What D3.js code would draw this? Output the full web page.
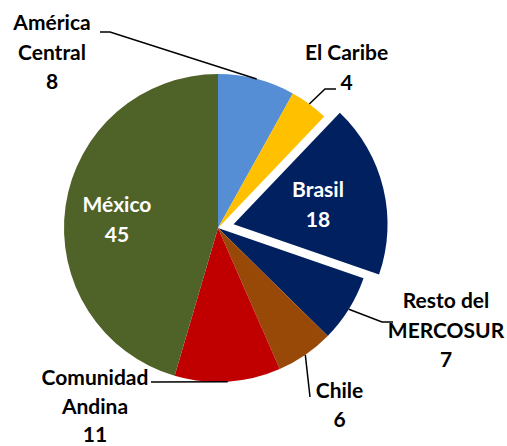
<!DOCTYPE html>
<html>
<head>
<meta charset="utf-8">
<script src="https://cdn.jsdelivr.net/npm/d3@7"></script>
<style>
  html, body { margin: 0; padding: 0; background: #fff; }
  svg { display: block; }
  text { font-family: Lato, "Open Sans", sans-serif; font-weight: bold; font-size: 21px; }
</style>
</head>
<body>
<svg id="chart" width="507" height="446"></svg>
<script>
// ---- data ----
const categories = ["América Central", "El Caribe", "Brasil", "Resto del MERCOSUR", "Chile", "Comunidad Andina", "México"];
const values = [8, 4, 18, 7, 6, 11, 45];
const labelLines = [["América", "Central"], ["El Caribe"], ["Brasil"], ["Resto del", "MERCOSUR"], ["Chile"], ["Comunidad", "Andina"], ["México"]];
const colors = ["#558ED5", "#FFC000", "#002060", "#002060", "#984807", "#C00000", "#4F6228"];
const exploded = [false, false, true, false, false, false, false];

// ---- layout (not data) ----
const W = 507, H = 446;
const cx = 218, cy = 228, R = 154, explodeDist = 16;
const lineH = 29.5;
const labelLayout = [
  { x: 52,  y: 30,  inside: false, leader: [[110, 32], [100, 32]] },
  { x: 346.5, y: 60, inside: false, leader: [[325, 89], [336, 89]] },
  { x: 318, y: 197, inside: true },
  { x: 446, y: 308, inside: false, leader: [[382, 322], [393, 322]] },
  { x: 339.5, y: 398, inside: false, leader: [[310, 397]] },
  { x: 95,  y: 385, inside: false, leader: [[151, 382]] },
  { x: 117, y: 212, inside: true }
];

const svg = d3.select("#chart");
const g = svg.append("g").attr("transform", `translate(${cx},${cy})`);

const pie = d3.pie().sort(null).value(d => d.v).startAngle(0).endAngle(2 * Math.PI);
const data = categories.map((c, i) => ({ c, v: values[i], i }));
const arcs = pie(data);
const arc = d3.arc().innerRadius(0).outerRadius(R);

function offset(d) {
  if (!exploded[d.data.i]) return [0, 0];
  const a = (d.startAngle + d.endAngle) / 2;
  return [Math.sin(a) * explodeDist, -Math.cos(a) * explodeDist];
}

g.selectAll("path.slice").data(arcs).join("path")
  .attr("class", "slice")
  .attr("d", arc)
  .attr("fill", d => colors[d.data.i])
  .attr("stroke", "none")
  .attr("transform", d => { const o = offset(d); return `translate(${o[0]},${o[1]})`; });

// leader lines
arcs.forEach(d => {
  const L = labelLayout[d.data.i];
  if (L.inside) return;
  const a = (d.startAngle + d.endAngle) / 2;
  const start = [cx + Math.sin(a) * R, cy - Math.cos(a) * R];
  const pts = [start].concat(L.leader);
  svg.append("path")
    .attr("d", d3.line()(pts))
    .attr("fill", "none")
    .attr("stroke", "#000")
    .attr("stroke-width", 1.5);
});

// labels
arcs.forEach(d => {
  const i = d.data.i;
  const L = labelLayout[i];
  const lines = labelLines[i].concat([String(values[i])]);
  const t = svg.append("text")
    .attr("text-anchor", "middle")
    .attr("fill", L.inside ? "#fff" : "#000");
  lines.forEach((s, k) => {
    t.append("tspan").attr("x", L.x).attr("y", L.y + k * (L.y > 380 ? 28.5 : lineH)).text(s);
  });
});
</script>
</body>
</html>
